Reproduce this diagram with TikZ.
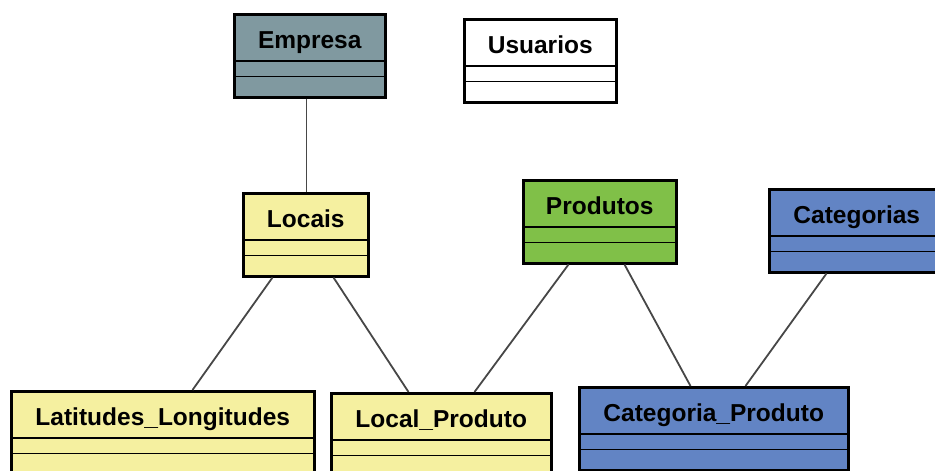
\documentclass[tikz,border=0pt]{standalone}
\usepackage{fontspec}
\setmainfont{Liberation Sans}
\usetikzlibrary{shapes.multipart}
\definecolor{cinzaazul}{RGB}{128,153,160}
\definecolor{amarelo}{RGB}{245,240,160}
\definecolor{verde}{RGB}{128,192,72}
\definecolor{azul}{RGB}{98,132,196}
\newcommand\classe[1]{\rule[-12pt]{0pt}{44pt}#1\nodepart{two}\nodepart{three}\rule{0pt}{18.5pt}}
\begin{document}
\begin{tikzpicture}[x=1pt,y=-1pt]
\tikzset{tabela/.style={rectangle split,rectangle split parts=3,draw=black,line width=1.5pt,anchor=north west,
inner xsep=0pt,inner ysep=0pt,rectangle split empty part height=14pt,rectangle split empty part depth=0pt,
font=\fontsize{24.5}{28}\selectfont\bfseries},
borda/.style={line width=3pt},
ligacao/.style={line width=1.8pt,draw=black!72}}
\clip (0,0) rectangle (935,471);
\node[tabela,fill=cinzaazul,minimum width=149pt] (empresa) at (234.5,14.5) {\classe{Empresa}};
\node[tabela,fill=white,minimum width=150pt] (usuarios) at (464.5,19.5) {\classe{Usuarios}};
\node[tabela,fill=amarelo,minimum width=123pt] (locais) at (243.5,193.5) {\classe{Locais}};
\node[tabela,fill=verde,minimum width=151pt] (produtos) at (523.5,180.5) {\classe{Produtos}};
\node[tabela,fill=azul,minimum width=173pt] (categorias) at (769.5,189.5) {\classe{Categorias}};
\node[tabela,fill=amarelo,minimum width=301pt] (latitudes) at (11.5,391.5) {\classe{Latitudes\_Longitudes}};
\node[tabela,fill=amarelo,minimum width=218pt] (localproduto) at (331.5,393.5) {\classe{Local\_Produto}};
\node[tabela,fill=azul,minimum width=267pt] (categoriaproduto) at (579.5,387.5) {\classe{Categoria\_Produto}};
\foreach \n in {empresa,usuarios,locais,produtos,categorias,latitudes,localproduto,categoriaproduto}
\draw[borda] (\n.north west) rectangle (\n.south east);
\foreach \a/\da/\b/\db in {empresa/72/locais/63,locais/29/latitudes/181,locais/90/localproduto/77,
produtos/45/localproduto/143,produtos/101/categoriaproduto/111,categorias/57/categoriaproduto/166}
\draw[ligacao] ([xshift=\da pt,yshift=-1.5pt]\a.south west) -- ([xshift=\db pt,yshift=1.5pt]\b.north west);
\end{tikzpicture}
\end{document}
